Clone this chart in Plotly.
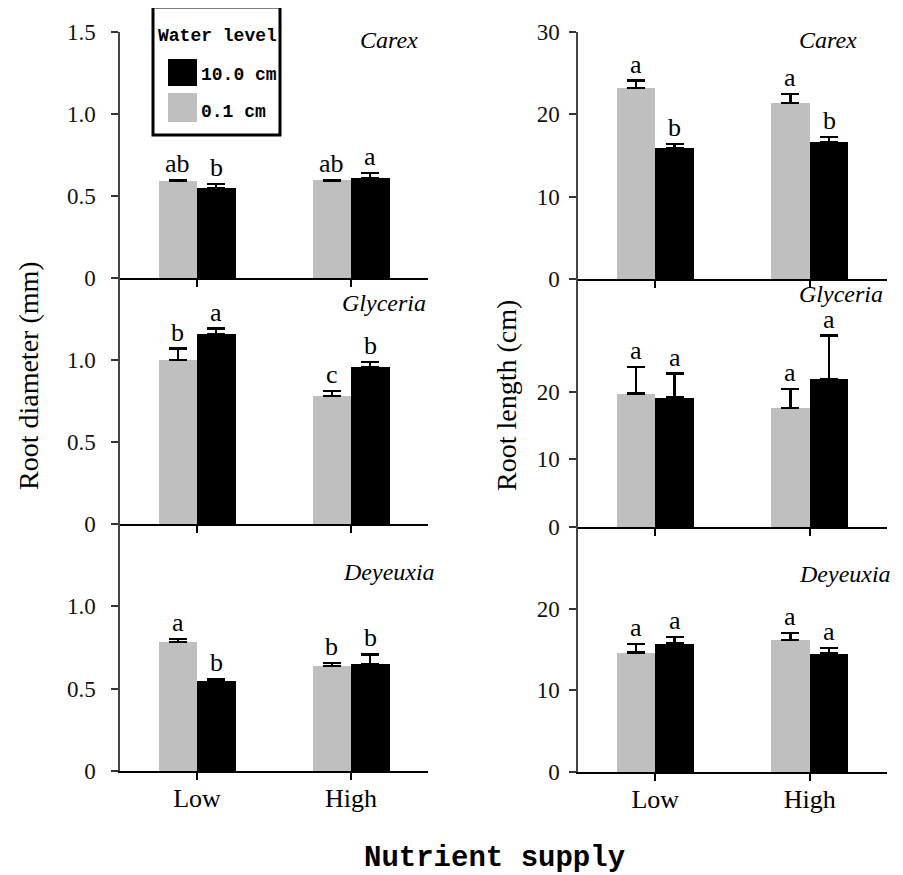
import plotly.graph_objects as go

# ---------------- data ----------------
categories = ["Low", "High"]
species = ["Carex", "Glyceria", "Deyeuxia"]

# Root diameter (mm)
diam_shallow = [[0.59, 0.595], [1.00, 0.78], [0.783, 0.636]]        # 0.1 cm (grey)
diam_shallow_err = [[0.01, 0.005], [0.07, 0.03], [0.017, 0.02]]
diam_deep = [[0.55, 0.61], [1.157, 0.957], [0.547, 0.648]]           # 10.0 cm (black)
diam_deep_err = [[0.025, 0.03], [0.035, 0.033], [0.012, 0.06]]
diam_shallow_lab = [["ab", "ab"], ["b", "c"], ["a", "b"]]
diam_deep_lab = [["b", "a"], ["a", "b"], ["b", "b"]]

# Root length (cm)
len_shallow = [[23.2, 21.4], [19.75, 17.57], [14.63, 16.2]]
len_shallow_err = [[0.9, 1.1], [3.9, 2.9], [1.0, 0.85]]
len_deep = [[15.9, 16.6], [19.16, 21.93], [15.73, 14.5]]
len_deep_err = [[0.5, 0.6], [3.55, 6.4], [0.8, 0.73]]
len_shallow_lab = [["a", "a"], ["a", "a"], ["a", "a"]]
len_deep_lab = [["b", "b"], ["a", "a"], ["a", "a"]]

diam_ranges = [[0, 1.5], [0, 1.5], [0, 1.5]]
diam_ticks = [[0, 0.5, 1.0, 1.5], [0, 0.5, 1.0], [0, 0.5, 1.0]]
diam_ticktext = [["0", "0.5", "1.0", "1.5"], ["0", "0.5", "1.0"], ["0", "0.5", "1.0"]]
len_ranges = [[0, 30], [0, 36.7], [0, 30]]
len_ticks = [[0, 10, 20, 30], [0, 10, 20], [0, 10, 20]]
len_ticktext = [["0", "10", "20", "30"], ["0", "10", "20"], ["0", "10", "20"]]

GREY = "#bfbfbf"
BLACK = "#000000"
SERIF = "Liberation Serif"
MONO = "Liberation Mono"

# page body has an 8px margin: figure occupies 8..903 x 8..875 of the window
OFFS = 8
W, H = 903 - OFFS, 875 - OFFS
def PX(x):
    return (x - OFFS) / W
def PY(y):
    return 1 - (y - OFFS) / H

# panel geometry (window pixels)
left_x = [120, 428]
right_x = [578, 887]
left_rows = [[32, 278], [278, 524], [524, 771]]
right_rows = [[32, 279], [279, 527], [527, 772]]

BW = 0.25   # bar width in category units
OFF = 0.125

fig = go.Figure()
layout = dict(width=W, height=H, margin=dict(l=0, r=0, t=0, b=0, autoexpand=False),
              paper_bgcolor="white", plot_bgcolor="white", showlegend=False,
              bargap=0, annotations=[], shapes=[])

cat_idx = list(range(len(categories)))

def add_panel(k, col, row, shallow, s_err, deep, d_err, s_lab, d_lab,
              yr, yt, ytt, sp_x, sp_y):
    xa = "x" if k == 1 else f"x{k}"
    ya = "y" if k == 1 else f"y{k}"
    xs = [i - OFF for i in cat_idx]
    xd = [i + OFF for i in cat_idx]
    fig.add_trace(go.Bar(x=xs, y=shallow, width=BW, marker=dict(color=GREY, line=dict(width=0)),
                         error_y=dict(type="data", array=s_err, arrayminus=[0] * len(s_err),
                                      symmetric=False, color="black", thickness=2.2, width=9),
                         xaxis=xa, yaxis=ya, name="0.1 cm"))
    fig.add_trace(go.Bar(x=xd, y=deep, width=BW, marker=dict(color=BLACK, line=dict(width=0)),
                         error_y=dict(type="data", array=d_err, arrayminus=[0] * len(d_err),
                                      symmetric=False, color="black", thickness=2.2, width=9),
                         xaxis=xa, yaxis=ya, name="10.0 cm"))
    for i in cat_idx:
        for xx, v, e, lab in [(xs[i], shallow[i], s_err[i], s_lab[i]),
                              (xd[i], deep[i], d_err[i], d_lab[i])]:
            layout["annotations"].append(dict(
                x=xx, y=v + e, xref=xa, yref=ya, text=lab, showarrow=False,
                yanchor="bottom", xanchor="center", yshift=0,
                font=dict(family=SERIF, size=26, color="black")))
    xpx = left_x if col == 0 else right_x
    rows = left_rows if col == 0 else right_rows
    ypx = rows[row]
    axis_name_x = "xaxis" if k == 1 else f"xaxis{k}"
    axis_name_y = "yaxis" if k == 1 else f"yaxis{k}"
    layout[axis_name_x] = dict(
        domain=[PX(xpx[0]), PX(xpx[1])], anchor=ya, range=[-0.5, len(categories) - 0.5],
        tickvals=cat_idx, ticktext=categories, showticklabels=(row == 2),
        ticks="outside", ticklen=7, tickwidth=1.5, tickcolor="black", automargin=False,
        showline=True, linecolor="black", linewidth=2, showgrid=False, zeroline=False,
        ticklabelstandoff=-4,
        tickfont=dict(family=SERIF, size=26, color="black"), fixedrange=True)
    layout[axis_name_y] = dict(
        domain=[PY(ypx[1]), PY(ypx[0])], anchor=xa, range=yr, automargin=False,
        tickvals=yt, ticktext=ytt, ticks="outside", ticklen=7, tickwidth=1.5,
        tickcolor="#333", showline=True, linecolor="#444", linewidth=1.5,
        showgrid=False, zeroline=False, ticklabelstandoff=(11 if col == 0 else 5),
        tickfont=dict(family=SERIF, size=23, color="#111"), fixedrange=True)
    layout["annotations"].append(dict(
        x=sp_x, y=sp_y, xref=f"{xa} domain", yref=f"{ya} domain", text=f"<i>{species[row]}</i>",
        showarrow=False, xanchor="right", yanchor="middle",
        font=dict(family=SERIF, size=24, color="black")))

sp_pos_left = [(0.975, 0.967), (1.0, 0.898), (1.03, 0.806)]
sp_pos_right = [(0.908, 0.967), (0.995, 0.94), (1.018, 0.81)]

k = 1
for r in range(3):
    add_panel(k, 0, r, diam_shallow[r], diam_shallow_err[r], diam_deep[r], diam_deep_err[r],
              diam_shallow_lab[r], diam_deep_lab[r], diam_ranges[r], diam_ticks[r],
              diam_ticktext[r], *sp_pos_left[r])
    k += 1
    add_panel(k, 1, r, len_shallow[r], len_shallow_err[r], len_deep[r], len_deep_err[r],
              len_shallow_lab[r], len_deep_lab[r], len_ranges[r], len_ticks[r],
              len_ticktext[r], *sp_pos_right[r])
    k += 1

def text_at(x, y, text, font, xanchor="center", yanchor="middle", angle=0):
    layout["annotations"].append(dict(x=PX(x), y=PY(y), xref="paper", yref="paper",
                                      text=text, showarrow=False, textangle=angle,
                                      xanchor=xanchor, yanchor=yanchor, font=font))

# axis titles
text_at(28, 376, "Root diameter (mm)", dict(family=SERIF, size=28, color="black"), angle=-90)
text_at(506, 396, "Root length (cm)", dict(family=SERIF, size=28, color="black"), angle=-90)
text_at(494, 858, "<b>Nutrient supply</b>", dict(family=MONO, size=29, color="black"))

# legend (drawn manually)
def rect(x0, y0, x1, y1, **kw):
    layout["shapes"].append(dict(type="rect", xref="paper", yref="paper",
                                 x0=PX(x0), x1=PX(x1), y0=PY(y1), y1=PY(y0), layer="above", **kw))

rect(153, 7, 280, 135, line=dict(color="black", width=3), fillcolor="white")
rect(168, 59, 197, 86, line=dict(width=0), fillcolor=BLACK)
rect(168, 93, 197, 122, line=dict(width=0), fillcolor=GREY)
text_at(217, 36, "<b>Water level</b>", dict(family=MONO, size=18, color="black"))
text_at(199, 75, "<b>10.0 cm</b>", dict(family=MONO, size=18, color="black"), xanchor="left")
text_at(199, 112, "<b>0.1 cm</b>", dict(family=MONO, size=18, color="black"), xanchor="left")

fig.update_layout(**layout)
fig.write_html("out.html")
